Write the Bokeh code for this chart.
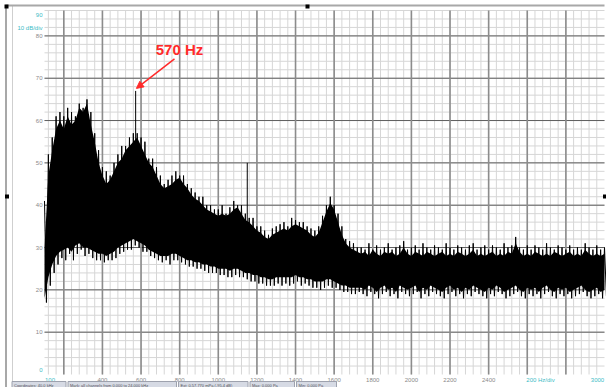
from bokeh.plotting import figure
from bokeh.models import Label, Arrow, NormalHead
from bokeh.core.properties import value
from bokeh.embed import file_html
from bokeh.resources import INLINE

# ---- data (dB per 20 Hz bin, 100..3000 Hz) ----
freqs = list(range(100, 3001, 20))
# dense core of the trace
upper_db = [30, 47, 53, 58, 60, 58, 61, 59, 60, 63, 62, 64, 59, 55, 50, 47, 45, 46, 48, 50,
            51, 53, 54, 55, 56, 54, 52, 50, 49, 47, 45, 44, 44.5, 45, 46, 46.5, 45, 44, 42.5, 41.5,
            41, 40, 39, 38.5, 38, 37.5, 38, 37.5, 38, 39, 39.5, 38, 36.5, 36, 35, 34, 33.5, 32.5, 32, 33,
            33.5, 34, 34.5, 34, 35, 35.5, 35, 34.5, 34, 33, 32.5, 33.5, 36, 38.5, 40.5, 39, 36, 33, 31, 30,
            29.5, 29,
            28.5, 29, 28, 29.5, 28.5, 28, 29, 28.5, 29, 28, 28.5, 30, 28.5, 28, 29, 28.5, 28, 29, 28.5, 28,
            28.5, 29, 28, 28.5, 28, 29, 28.5, 28, 28.5, 29.5, 28, 28.5, 28, 28.5, 29, 28, 28.5, 28, 29, 28.5,
            31, 29, 28, 28.5, 28, 29, 28.5, 28, 28.5, 28, 29, 28.5, 28, 28.5, 29, 28, 28.5, 28, 29.5, 28.5,
            28, 28.5, 28, 28.5]
lower_db = [18, 23, 26, 28, 29, 29.5, 30, 29, 30.5, 31, 30, 30, 29.5, 29, 28.5, 28.5, 28, 28.5, 29, 30,
            30.5, 31, 31.5, 32, 31.5, 31, 30.5, 29.5, 29, 28.5, 28, 28, 28, 28.5, 28.5, 28, 27.5, 27, 27, 26.5,
            26.5, 26, 26, 25.5, 25.5, 25, 25, 25, 24.5, 25, 25, 24.5, 24, 24, 23.5, 23.5, 23, 23, 22.5, 22.5,
            23, 23, 23, 23, 23, 23.5, 23, 23, 22.5, 22.5, 22, 22, 22, 22.5, 22.5, 22, 21.5, 21, 21, 20.5,
            20.5, 20.5,
            20.5, 20, 21, 20.5, 19.5, 20.5, 21, 20, 20.5, 19.5, 21, 20.5, 20, 20.5, 21, 19.5, 20.5, 20, 21, 20.5,
            20, 19.5, 20.5, 21, 20, 20.5, 19.5, 20.5, 20, 21, 20.5, 20, 19.5, 20.5, 20, 21, 20.5, 19.5, 20, 20.5,
            21, 20, 19.5, 20.5, 20, 20.5, 19.5, 20.5, 21, 20, 19.5, 20.5, 20, 20.5, 19.5, 20, 20.5, 21, 20, 19.5,
            20, 20.5, 19.5, 20]
# extreme peaks / dips of the noisy trace
peak_hi = [41, 52, 56, 61, 62, 61, 63, 62, 61, 64, 63, 65, 62, 57, 53, 49, 48, 47, 50, 52,
           54, 54, 56, 57, 57, 56, 55, 51, 51, 49, 47, 45, 46, 47, 48, 47, 47, 45, 44, 43,
           42, 42, 40, 40, 39, 39, 40, 38, 39.5, 41, 40, 40, 38, 37, 37, 35, 35, 34, 33, 34.5,
           35, 35.5, 36, 35, 37, 36.5, 36, 36, 35, 34.5, 34, 35, 37.5, 40, 42, 40, 38, 35, 32, 31.5,
           31, 30,
           30, 29.5, 31, 29.5, 30.5, 29.5, 30, 31, 29.5, 30, 30.5, 31.5, 29.5, 30, 30.5, 29.5, 31, 30, 29.5, 30.5,
           30, 29.5, 31, 30, 29.5, 30.5, 30, 29.5, 30.5, 31, 29.5, 30, 30.5, 29.5, 30.5, 30, 29.5, 31, 30, 30.5,
           32.5, 30, 29.5, 30.5, 29.5, 30.5, 30, 29.5, 31, 30, 29.5, 30.5, 30, 29.5, 30.5, 29.5, 30, 29.5, 31, 30,
           29.5, 30.5, 29.5, 30]
peak_lo = [17, 21, 24, 26, 27.5, 27, 28.5, 27, 28.5, 29.5, 28, 28.5, 27.5, 27, 27, 26.5, 27, 27, 27.5, 28.5,
           29, 29.5, 29.5, 30.5, 30, 29, 29, 28, 27.5, 27, 26.5, 27, 26, 27, 27, 26.5, 26, 25.5, 25.5, 25,
           25, 24.5, 24, 24, 24, 23.5, 23.5, 23, 23, 23.5, 23, 23, 22.5, 22, 22, 21.5, 21.5, 21, 21, 21,
           21.5, 21, 21.5, 21, 21.5, 22, 21, 21.5, 21, 20.5, 20.5, 20, 20.5, 21, 20.5, 20.5, 20, 19.5, 19.5, 19,
           19, 19.5,
           19, 18.5, 19.5, 19, 18, 19, 19.5, 18.5, 19, 18, 19.5, 19, 18.5, 19, 19.5, 18, 19, 18.5, 19.5, 19,
           18.5, 18, 19, 19.5, 18.5, 19, 18, 19, 18.5, 19.5, 19, 18.5, 18, 19, 18.5, 19.5, 19, 18, 18.5, 19,
           19.5, 18.5, 18, 19, 18.5, 19, 18, 19, 19.5, 18.5, 18, 19, 18.5, 19, 18, 18.5, 19, 19.5, 18.5, 18,
           18.5, 19, 18, 18.5]
spike_freqs = [572, 1150]
spike_tops = [67.0, 50.0]
spike_bases = [50.0, 36.0]

x_major = [200, 400, 600, 800, 1000, 1200, 1400, 1600, 1800, 2000, 2200, 2400, 2600, 2800]
x_minor = list(range(120, 3000, 40))
x_tick_labels = ["400", "600", "800", "1000", "1200", "1400", "1600", "1800", "2000", "2200", "2400"]
x_tick_pos = [400, 600, 800, 1000, 1200, 1400, 1600, 1800, 2000, 2200, 2400]
y_major = [10, 20, 30, 40, 50, 60, 70, 80]
y_minor = list(range(2, 87, 2))
y_tick_labels = ["10", "20", "30", "40", "50", "60", "70", "80"]
f_min, f_max = 100, 3000
db_min, db_max = 0, 86

# ---- canvas mapping: whole canvas is the frame; plot area = 100..3000 Hz, 0..86 dB ----
W, H = 606, 387
PL, PR, PT, PB = 44, 604, 10, 374          # plot area in pixels
kx = (PR - PL) / (f_max - f_min)
ky = (PB - PT) / (db_max - db_min)
fx = lambda px: f_min + (px - PL) / kx
dy = lambda py: db_min + (PB - py) / ky

p = figure(width=W, height=H, x_range=(fx(0), fx(W)), y_range=(dy(H), dy(0)),
           output_backend="svg", toolbar_location=None, min_border=0)
p.axis.visible = False
p.grid.visible = False
p.outline_line_color = None
p.background_fill_color = "white"
p.border_fill_color = "white"

# grid
p.segment(x0=x_minor, y0=[db_min] * len(x_minor), x1=x_minor, y1=[db_max] * len(x_minor),
          line_color="#d6d6d6", line_width=1)
p.segment(x0=[f_min] * len(y_minor), y0=y_minor, x1=[f_max] * len(y_minor), y1=y_minor,
          line_color="#d6d6d6", line_width=1)
p.segment(x0=[f_min] * len(y_major), y0=y_major, x1=[f_max] * len(y_major), y1=y_major,
          line_color="#5e5e5e", line_width=1)
p.segment(x0=x_major, y0=[db_min] * len(x_major), x1=x_major, y1=[db_max] * len(x_major),
          line_color="#8c8c8c", line_width=1.6)

# spectrum trace: dense core band plus zig-zag between the peaks and dips
p.varea(x=freqs, y1=lower_db, y2=upper_db, fill_color="black")
xs, ys = [], []
for f, u, l in zip(freqs, peak_hi, peak_lo):
    xs += [f, f + 10]
    ys += [u, l]
p.line(xs, ys, line_color="black", line_width=1)
p.segment(x0=spike_freqs, y0=spike_bases, x1=spike_freqs, y1=spike_tops, line_color="black", line_width=1)

# tick labels
grey = "#8a8a8a"
cyan = "#3bbcc6"
font = value("Liberation Sans")
p.text(x=[fx(42)] * len(y_major), y=y_major, text=y_tick_labels, text_font=font,
       text_font_size=value("6px"), text_color=grey, text_align="right", text_baseline="middle")
p.text(x=x_tick_pos, y=[dy(379)] * len(x_tick_pos), text=x_tick_labels, text_font=font,
       text_font_size=value("6px"), text_color=grey, text_align="center", text_baseline="middle")
p.text(x=[fx(42), fx(42), fx(42)], y=[dy(14), dy(27), dy(369)], text=["90", "10 dB/div", "0"],
       text_font=font, text_font_size=value("6px"), text_color=cyan, text_align="right",
       text_baseline="middle")
p.text(x=[fx(49.5), fx(540), fx(597)], y=[dy(379)] * 3, text=["100", "200 Hz/div", "3000"],
       text_font=font, text_font_size=value("6px"), text_color=cyan, text_align="center",
       text_baseline="middle")

# annotation
red = "#ff2a2a"
p.add_layout(Arrow(end=NormalHead(size=7, line_color=red, fill_color=red),
                   x_start=fx(174), y_start=dy(58.3), x_end=576, y_end=67.6,
                   line_color=red, line_width=1.5))
p.add_layout(Label(x=fx(179), y=dy(49), text="570 Hz", text_font="Liberation Sans", text_font_size="15px",
                   text_font_style="bold", text_color=red, text_align="center", text_baseline="middle"))

# window frame
p.segment(x0=[fx(5.5), fx(12), fx(5)], y0=[dy(5), dy(5), dy(5)], x1=[fx(5.5), fx(12), fx(604)],
          y1=[dy(387), dy(387), dy(5)], line_color=["#a8a8a8", "#cfcfcf", "#a8a8a8"],
          line_width=[2, 1, 2])
p.rect(x=[fx(6), fx(307), fx(6.5), fx(604.5)], y=[dy(6), dy(6), dy(196), dy(196)], width=4, height=4,
       width_units="screen", height_units="screen", fill_color="black", line_color=None)

# status bar
sb_left = [11.5, 67.5, 178, 249.5, 296]
sb_right = [65.5, 176, 247.5, 294, 336]
sb_text = ["Coordinates: 40.0 kHz", "Mark: all channels from 0.000 to 24.000 kHz",
           "Ext: 0.57.770 mPa (-95.4 dB)", "Max: 0.000 Pa", "Min: 0.000 Pa"]
p.quad(left=[fx(v) for v in sb_left], right=[fx(v) for v in sb_right], top=[dy(381)] * 5,
       bottom=[dy(388)] * 5, fill_color="#d6dae4", line_color="#9ea2ae", line_width=1)
p.text(x=[fx(v + 2) for v in sb_left], y=[dy(384.5)] * 5, text=sb_text, text_font=font,
       text_font_size=value("4px"), text_color="#505058", text_align="left", text_baseline="middle")

open("out.html", "w").write(file_html(p, INLINE))
